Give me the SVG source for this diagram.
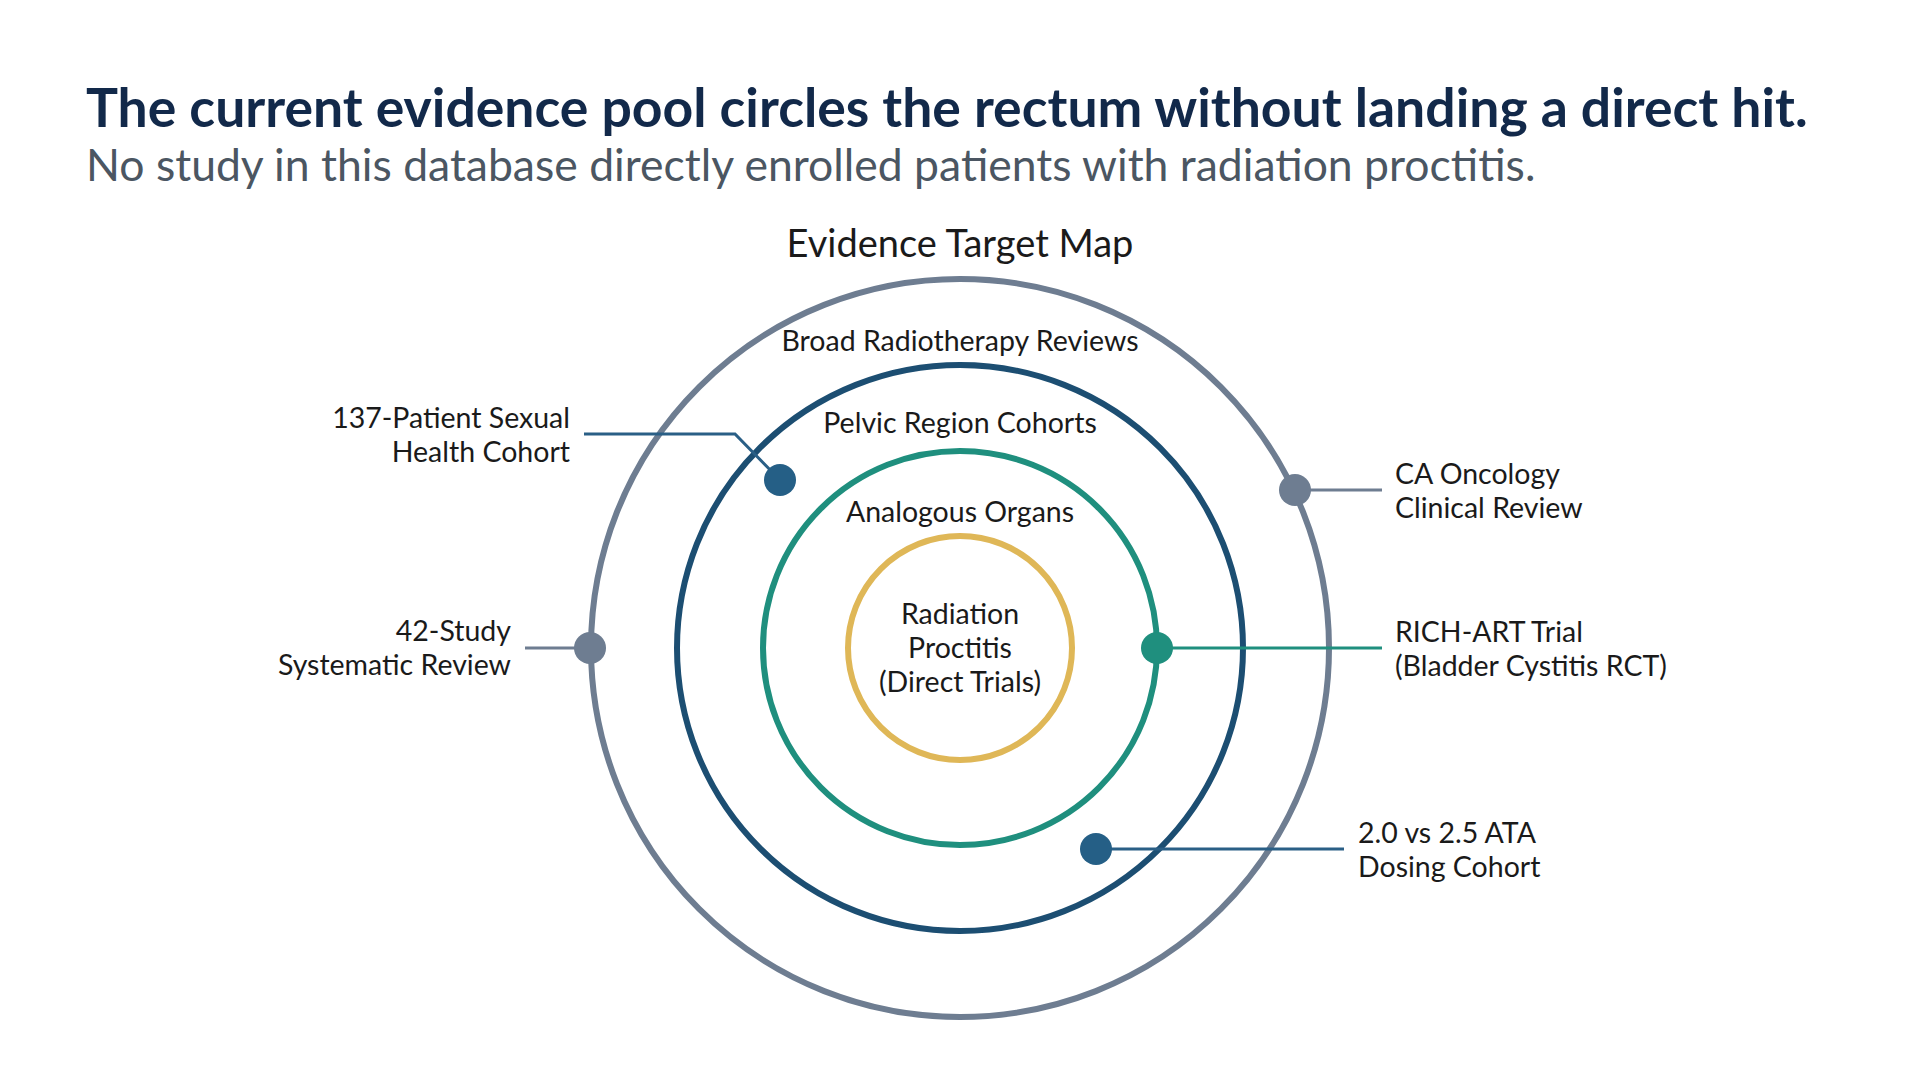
<svg xmlns="http://www.w3.org/2000/svg" width="1920" height="1072" viewBox="0 0 1920 1072">
<style>
.title{font-family:Lato,"Liberation Sans",sans-serif;font-weight:700;font-size:53.5px;fill:#12294a}
.sub{font-family:Lato,"Liberation Sans",sans-serif;font-size:44.5px;fill:#4b5662}
.h{font-family:Lato,"Liberation Sans",sans-serif;font-size:38px;fill:#1a1a1a}
.lbl{font-family:Lato,"Liberation Sans",sans-serif;font-size:28.5px;fill:#1a1a1a}
.ring{fill:none;stroke-width:6}
.conn{fill:none;stroke-width:3}
</style>
<rect width="1920" height="1072" fill="#ffffff"/>
<text class="title" x="86" y="127">The current evidence pool circles the rectum without landing a direct hit.</text>
<text class="sub" x="86" y="181">No study in this database directly enrolled patients with radiation proctitis.</text>
<text class="h" x="960" y="257" text-anchor="middle">Evidence Target Map</text>

<g id="ring-broad">
<circle class="ring" cx="960" cy="648" r="369" stroke="#6e7d91"/>
<text class="lbl" x="960" y="351" text-anchor="middle">Broad Radiotherapy Reviews</text>
</g>
<g id="ring-pelvic">
<circle class="ring" cx="960" cy="648" r="283" stroke="#1c4e72"/>
<text class="lbl" x="960" y="433" text-anchor="middle">Pelvic Region Cohorts</text>
</g>
<g id="ring-analogous">
<circle class="ring" cx="960" cy="648" r="197" stroke="#1f8f7e"/>
<text class="lbl" x="960" y="522" text-anchor="middle">Analogous Organs</text>
</g>
<g id="ring-direct">
<circle class="ring" cx="960" cy="648" r="112" stroke="#dfb757"/>
<text class="lbl" x="960" y="624" text-anchor="middle">Radiation</text>
<text class="lbl" x="960" y="658" text-anchor="middle">Proctitis</text>
<text class="lbl" x="960" y="692" text-anchor="middle">(Direct Trials)</text>
</g>

<g id="connectors">
<polyline class="conn" points="584,434 735,434 780,480" stroke="#2a5f86"/>
<line class="conn" x1="525" y1="648" x2="590" y2="648" stroke="#6e7d91"/>
<line class="conn" x1="1295" y1="490" x2="1382" y2="490" stroke="#6e7d91"/>
<line class="conn" x1="1157" y1="648" x2="1382" y2="648" stroke="#1f8f7e"/>
<line class="conn" x1="1096" y1="849" x2="1344" y2="849" stroke="#2a5f86"/>
</g>

<g id="study-137">
<circle cx="780" cy="480" r="16" fill="#255f86"/>
<text class="lbl" x="570" y="428" text-anchor="end">137-Patient Sexual</text>
<text class="lbl" x="570" y="462" text-anchor="end">Health Cohort</text>
</g>
<g id="study-42">
<circle cx="590" cy="648" r="16" fill="#6e7d91"/>
<text class="lbl" x="511" y="641" text-anchor="end">42-Study</text>
<text class="lbl" x="511" y="675" text-anchor="end">Systematic Review</text>
</g>
<g id="study-ca">
<circle cx="1295" cy="490" r="16" fill="#6e7d91"/>
<text class="lbl" x="1395" y="484">CA Oncology</text>
<text class="lbl" x="1395" y="518">Clinical Review</text>
</g>
<g id="study-richart">
<circle cx="1157" cy="648" r="16" fill="#1f8f7e"/>
<text class="lbl" x="1395" y="642">RICH-ART Trial</text>
<text class="lbl" x="1395" y="676">(Bladder Cystitis RCT)</text>
</g>
<g id="study-ata">
<circle cx="1096" cy="849" r="16" fill="#255f86"/>
<text class="lbl" x="1358" y="843">2.0 vs 2.5 ATA</text>
<text class="lbl" x="1358" y="877">Dosing Cohort</text>
</g>
</svg>
